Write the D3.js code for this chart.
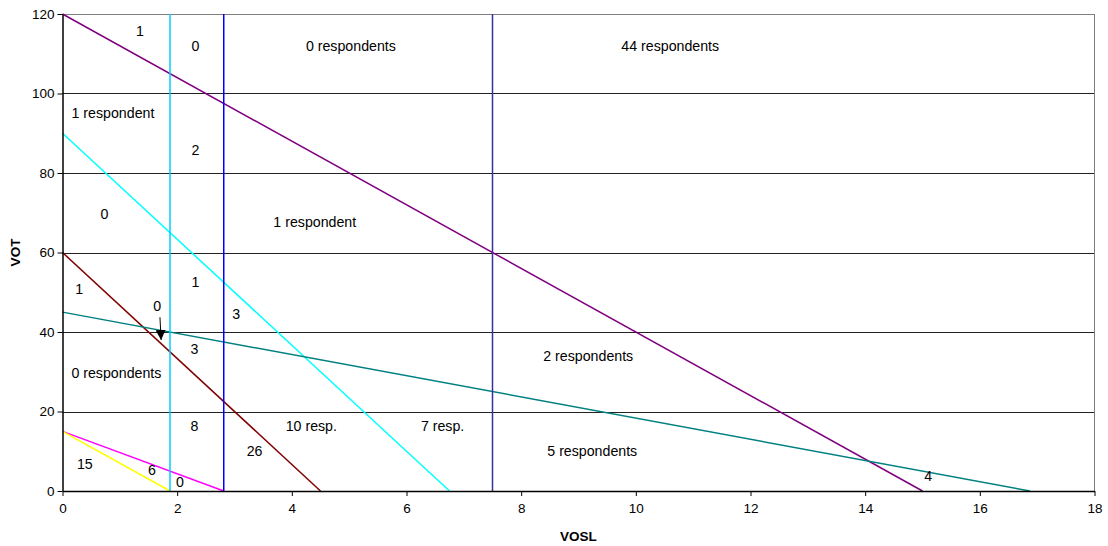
<!DOCTYPE html>
<html>
<head>
<meta charset="utf-8">
<script src="https://cdn.jsdelivr.net/npm/d3@7"></script>
<style>
  body { margin: 0; background: #fff; }
  text { font-family: "Liberation Sans", Arial, sans-serif; }
  .axis text { font-size: 13.5px; fill: #000; }
  .axis path, .axis line { stroke: #000; }
  .lbl { font-size: 14.2px; fill: #000; }
</style>
</head>
<body>
<div id="chart"></div>
<script>
var margin = {top: 14, right: 13.5, bottom: 55, left: 62.5};
var width = 1108 - margin.left - margin.right,
    height = 546 - margin.top - margin.bottom;

// boundary lines: [x1, y1, x2, y2] in VOSL/VOT units
var lineNames = ["purple", "cyan", "brown", "teal", "magenta", "yellow", "vCyan", "vBlue", "vNavy"];
var lineColors = ["#800080", "#00FFFF", "#800000", "#008080", "#FF00FF", "#FFFF00", "#00CCFF", "#0000FF", "#333399"];
var lineSegs = [
  [0, 120, 15, 0],
  [0, 90, 6.75, 0],
  [0, 60, 4.5, 0],
  [0, 45, 16.875, 0],
  [0, 15, 2.8125, 0],
  [0, 15, 1.875, 0],
  [1.875, 0, 1.875, 120],
  [2.8125, 0, 2.8125, 120],
  [7.5, 0, 7.5, 120]
];

// region labels
var labelText = ["1", "0", "0 respondents", "44 respondents", "1 respondent", "2", "0", "1 respondent",
  "1", "1", "0", "3", "3", "0 respondents", "2 respondents", "8", "10 resp.", "7 resp.", "26",
  "5 respondents", "15", "6", "0", "4"];
var labelX = [1.35, 2.32, 5.03, 10.6, 0.88, 2.32, 0.73, 4.4, 0.29, 2.32, 1.65, 3.03, 2.3, 0.94,
  9.17, 2.3, 4.34, 6.63, 3.35, 9.24, 0.39, 1.56, 2.05, 15.1];
var labelY = [115.7, 112, 112, 112, 95, 85.8, 69.7, 67.7, 50.8, 52.6, 46.5, 44.5, 35.7, 29.7,
  34, 16.4, 16.4, 16.4, 10, 10, 6.8, 5.3, 2.3, 3.8];

// arrow from the small "0" label to the corner point
var arrow = [1.7, 43.7, 1.72, 38];

var xTicks = [0, 2, 4, 6, 8, 10, 12, 14, 16, 18];
var yTicks = [0, 20, 40, 60, 80, 100, 120];

var x = d3.scaleLinear().domain([0, 18]).range([0, width]);
var y = d3.scaleLinear().domain([0, 120]).range([height, 0]);

var svg = d3.select("#chart").append("svg")
    .attr("width", 1108)
    .attr("height", 546)
  .append("g")
    .attr("transform", "translate(" + margin.left + "," + margin.top + ")");

svg.append("defs").append("marker")
    .attr("id", "head")
    .attr("viewBox", "0 0 10 10")
    .attr("refX", 10).attr("refY", 5)
    .attr("markerWidth", 10).attr("markerHeight", 10)
    .attr("markerUnits", "userSpaceOnUse")
    .attr("orient", "auto")
  .append("path")
    .attr("d", "M0,0L10,5L0,10Z")
    .attr("fill", "#000");

// grid
svg.selectAll(".grid")
    .data(yTicks.slice(1))
  .enter().append("line")
    .attr("class", "grid")
    .attr("x1", 0).attr("x2", width)
    .attr("y1", function(d) { return Math.round(y(d)) + 0.5; })
    .attr("y2", function(d) { return Math.round(y(d)) + 0.5; })
    .attr("stroke", function(d) { return d == 120 ? "#808080" : "#222"; })
    .attr("stroke-width", 1);

svg.append("line")
    .attr("x1", width).attr("x2", width)
    .attr("y1", 0).attr("y2", height)
    .attr("stroke", "#808080");

// lines
svg.selectAll(".seg")
    .data(lineSegs)
  .enter().append("line")
    .attr("class", "seg")
    .attr("x1", function(d) { return x(d[0]); })
    .attr("y1", function(d) { return y(d[1]); })
    .attr("x2", function(d) { return x(d[2]); })
    .attr("y2", function(d) { return y(d[3]); })
    .attr("stroke", function(d, i) { return lineColors[i]; })
    .attr("stroke-width", 1.5);

svg.append("g")
    .attr("class", "x axis")
    .attr("transform", "translate(0," + height + ")")
    .call(d3.axisBottom(x).tickValues(xTicks).tickSize(5).tickSizeOuter(0))
    .selectAll("text").attr("dy", "1.05em");

svg.append("g")
    .attr("class", "y axis")
    .call(d3.axisLeft(y).tickValues(yTicks).tickSize(5).tickSizeOuter(0))
    .selectAll("text").attr("x", -8);

svg.selectAll(".axis path").attr("stroke-width", 1.5);

// labels
svg.selectAll(".lbl")
    .data(labelText)
  .enter().append("text")
    .attr("class", "lbl")
    .attr("text-anchor", "middle")
    .attr("dy", "0.35em")
    .attr("x", function(d, i) { return x(labelX[i]); })
    .attr("y", function(d, i) { return y(labelY[i]); })
    .text(function(d) { return d; });

svg.append("line")
    .attr("x1", x(arrow[0])).attr("y1", y(arrow[1]))
    .attr("x2", x(arrow[2])).attr("y2", y(arrow[3]))
    .attr("stroke", "#000")
    .attr("stroke-width", 1)
    .attr("marker-end", "url(#head)");

// axis titles
svg.append("text")
    .attr("x", width / 2).attr("y", height + 50)
    .attr("text-anchor", "middle")
    .style("font-size", "13.5px").style("font-weight", "bold")
    .text("VOSL");

svg.append("text")
    .attr("transform", "translate(" + (-43) + "," + (height / 2) + ") rotate(-90)")
    .attr("text-anchor", "middle")
    .style("font-size", "13.5px").style("font-weight", "bold")
    .text("VOT");
</script>
</body>
</html>
